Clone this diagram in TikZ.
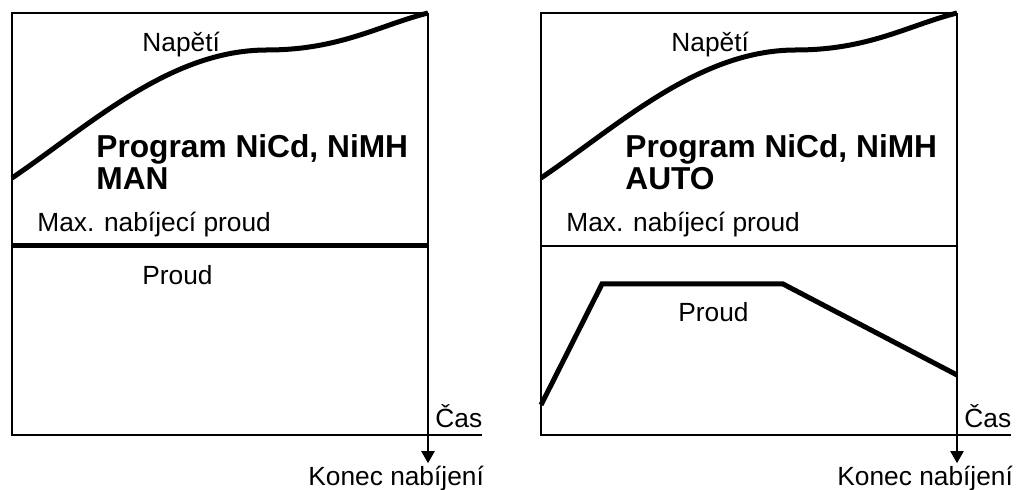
\documentclass[tikz,border=0pt]{standalone}
\usepackage{fontspec}
\setmainfont{Liberation Sans}
\usetikzlibrary{arrows.meta}

\begin{document}
\begin{tikzpicture}[x=.5pt,y=-.5pt,
  txt/.style={anchor=base west, inner sep=0, font=\fontsize{13.15}{15}\selectfont},
  big/.style={anchor=base west, inner sep=0, font=\fontsize{15.85}{16}\selectfont\bfseries},
  frame/.style={line width=1pt},
  curve/.style={line width=2.5pt},
  tip/.style={-{Triangle[width=6.5pt,length=6pt]}, shorten >=1.5pt}]
\def\dx{529}
\useasboundingbox (0,0) rectangle (1016,490);
% MAN
\coordinate (endL) at (428,13);
\path [draw, frame] (428,13) -- (12,13) -- (12,435) -- (482,435);
\node [txt] (napetiL) at (142,52) {Napětí};
\node [big] (progL) at (96,158) {Program NiCd, NiMH};
\node [big] (modeL) at (96,190) {MAN};
\node [txt] (maxL) at (37,232) {Max. nabíjecí proud};
\node [txt] (proudL) at (142,285) {Proud};
\node [txt] (casL) at (435,428) {Čas};
\node [txt] (konecL) at (308,486) {Konec nabíjení};
\path [draw, frame, tip] (endL) -- (endL |- konecL.north);
\path [draw, curve] (12,246) -- (428,246);
\path [draw, curve] (12,178) .. controls (90,125) and (170,50) .. (267,50)
  .. controls (340,50) and (380,25) .. (endL);
% AUTO
\begin{scope}[shift={(\dx,0)}]
\coordinate (endR) at (428,13);
\path [draw, frame] (428,13) -- (12,13) -- (12,435) -- (482,435);
\path [draw, frame] (12,246) -- (428,246);
\node [txt] (napetiR) at (142,52) {Napětí};
\node [big] (progR) at (96,158) {Program NiCd, NiMH};
\node [big] (modeR) at (96,190) {AUTO};
\node [txt] (maxR) at (37,232) {Max. nabíjecí proud};
\node [txt] (proudR) at (149,322) {Proud};
\node [txt] (casR) at (435,428) {Čas};
\node [txt] (konecR) at (308,486) {Konec nabíjení};
\path [draw, frame, tip] (endR) -- (endR |- konecR.north);
\path [draw, curve] (12,405) -- (73,284) -- (254,284) -- (428,375);
\path [draw, curve] (12,178) .. controls (90,125) and (170,50) .. (267,50)
  .. controls (340,50) and (380,25) .. (endR);
\end{scope}
\end{tikzpicture}
\end{document}
